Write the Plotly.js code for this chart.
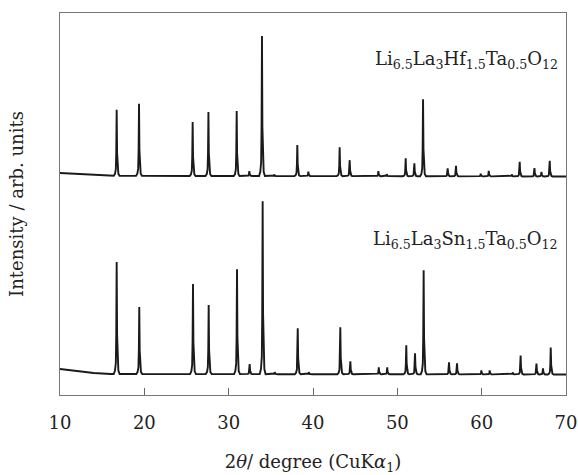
<!DOCTYPE html>
<html>
<head>
<meta charset="utf-8">
<script src="https://cdn.plot.ly/plotly-3.0.1.min.js"></script>
<style>html,body{margin:0;padding:0;background:#fff;}#chart{width:578px;height:475px;}</style>
</head>
<body>
<div id="chart"></div>
<script>
// Peak positions (2θ, degree) and heights above background (arb. units)
var hfPeakPos = [16.72, 19.37, 25.73, 27.60, 30.95, 32.45, 33.95, 35.40, 38.14, 39.45, 43.16, 44.35, 47.75, 48.74, 50.99, 52.02, 53.05, 55.97, 56.96, 59.89, 60.84, 63.57, 64.51, 66.26, 67.09, 68.07];
var hfPeakHeight = [66, 72, 54, 64, 65, 5, 140, 1.5, 31, 4.5, 29, 16, 5, 2, 18, 13, 77, 8, 10.5, 2.7, 5.4, 2, 14.7, 8.4, 4.7, 15.7];
var snPeakPos = [16.72, 19.40, 25.77, 27.63, 30.99, 32.49, 34.03, 35.46, 38.19, 39.50, 43.24, 44.43, 47.80, 48.80, 51.06, 52.10, 53.12, 56.13, 57.08, 59.96, 60.95, 63.68, 64.62, 66.50, 67.27, 68.19];
var snPeakHeight = [112, 67, 90, 69, 105, 10, 173, 2, 46, 2, 47, 13, 7, 7, 29, 21, 104, 12, 11, 4, 4, 2, 19, 11, 6, 27];

// Background (with vertical offset of the stacked patterns)
var bgX = [10, 12, 14, 16, 70];
var hfBackground = [222, 221, 219.8, 219.2, 218.5];
var snBackground = [26, 24, 22, 21, 20.5];

var xTicks = [10, 20, 30, 40, 50, 60, 70];
var hfLabel = 'Li<sub>6.5</sub>La<sub>3</sub>Hf<sub>1.5</sub>Ta<sub>0.5</sub>O<sub>12</sub>';
var snLabel = 'Li<sub>6.5</sub>La<sub>3</sub>Sn<sub>1.5</sub>Ta<sub>0.5</sub>O<sub>12</sub>';

// peak line shape (styling only)
var shapeDx = [-0.35, -0.2, -0.1, -0.05, 0, 0.05, 0.1, 0.2, 0.35];
var shapeFr = [0, 0.03, 0.1, 0.35, 1, 0.35, 0.1, 0.03, 0];

function flatBase(bg) { return bg[bg.length - 2]; }

function buildPattern(pos, hts, bg) {
  var xs = [], ys = [];
  for (var i = 0; i < bgX.length - 1; i++) { xs.push(bgX[i]); ys.push(bg[i]); }
  var base = flatBase(bg);
  var endBase = bg[bg.length - 1];
  for (var p = 0; p < pos.length; p++) {
    var b = base + (endBase - base) * (pos[p] - bgX[bgX.length - 2]) / (bgX[bgX.length - 1] - bgX[bgX.length - 2]);
    for (var k = 0; k < shapeDx.length; k++) {
      xs.push(pos[p] + shapeDx[k]);
      ys.push(b + hts[p] * shapeFr[k]);
    }
  }
  xs.push(bgX[bgX.length - 1]); ys.push(endBase);
  return {x: xs, y: ys};
}

var hf = buildPattern(hfPeakPos, hfPeakHeight, hfBackground);
var sn = buildPattern(snPeakPos, snPeakHeight, snBackground);

var lineStyle = {color: '#1a1a1a', width: 1.9};
var traces = [
  {x: hf.x, y: hf.y, type: 'scatter', mode: 'lines', line: lineStyle, name: 'Hf', showlegend: false, hoverinfo: 'skip'},
  {x: sn.x, y: sn.y, type: 'scatter', mode: 'lines', line: lineStyle, name: 'Sn', showlegend: false, hoverinfo: 'skip'}
];

var fontFam = 'DejaVu Serif, Liberation Serif, serif';
var layout = {
  width: 578, height: 475,
  margin: {l: 60, r: 12, t: 13, b: 80},
  paper_bgcolor: '#fff', plot_bgcolor: '#fff',
  font: {family: fontFam, color: '#222'},
  showlegend: false,
  xaxis: {
    range: [10, 70], tickvals: xTicks, ticktext: xTicks.map(String),
    ticks: 'inside', ticklen: 7, tickcolor: '#666', tickwidth: 1,
    showline: true, linecolor: '#777', linewidth: 1, mirror: true,
    showgrid: false, zeroline: false,
    tickfont: {family: fontFam, size: 18, color: '#222'},
    ticklabelstandoff: 11,
    title: {text: '2<i>θ</i>/ degree (CuK<i>α</i><sub>1</sub>)', font: {family: fontFam, size: 18, color: '#222'}, standoff: 25}
  },
  yaxis: {
    range: [0, 382], showticklabels: false, ticks: '',
    showline: true, linecolor: '#777', linewidth: 1, mirror: true,
    showgrid: false, zeroline: false,
    title: {text: 'Intensity / arb. units', font: {family: fontFam, size: 18, color: '#222'}, standoff: 30}
  },
  annotations: [
    {text: hfLabel, xref: 'paper', yref: 'paper', x: 0.988, y: 0.878, xanchor: 'right', yanchor: 'middle', showarrow: false, font: {family: fontFam, size: 18, color: '#222'}},
    {text: snLabel, xref: 'paper', yref: 'paper', x: 0.988, y: 0.406, xanchor: 'right', yanchor: 'middle', showarrow: false, font: {family: fontFam, size: 18, color: '#222'}}
  ]
};

Plotly.newPlot('chart', traces, layout, {staticPlot: true, displayModeBar: false});
</script>
</body>
</html>
